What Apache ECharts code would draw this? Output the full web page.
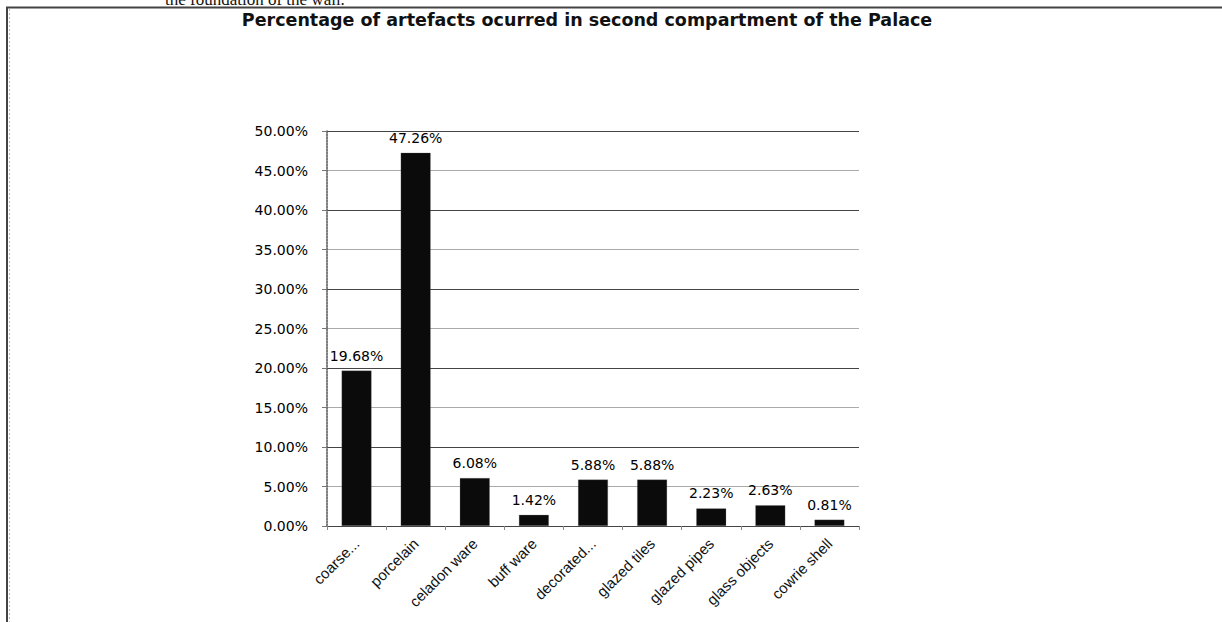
<!DOCTYPE html>
<html>
<head>
<meta charset="utf-8">
<script src="https://cdn.jsdelivr.net/npm/echarts@6/dist/echarts.min.js"></script>
<style>
  html, body { margin: 0; padding: 0; background: #fff; }
  #chart { width: 1222px; height: 622px; }
</style>
</head>
<body>
<div id="chart"></div>
<script>
// artefact categories and their share (%) in the second compartment
const categories = ['coarse...', 'porcelain', 'celadon ware', 'buff ware', 'decorated...',
  'glazed tiles', 'glazed pipes', 'glass objects', 'cowrie shell'];
const percentages = [19.68, 47.26, 6.08, 1.42, 5.88, 5.88, 2.23, 2.63, 0.81];
const yTicks = { min: 0, max: 50, step: 5 };

const chart = echarts.init(document.getElementById('chart'), null, { renderer: 'svg' });

const option = {
  backgroundColor: '#fff',
  animation: false,
  title: {
    text: 'Percentage of artefacts ocurred in second compartment of the Palace',
    left: 582,
    textAlign: 'center',
    top: 6,
    textStyle: { fontFamily: 'DejaVu Sans', fontSize: 17.5, fontWeight: 'bold', color: '#111' }
  },
  graphic: [
    // page text cut by the top edge of the screenshot
    {
      type: 'text', left: 165, top: -9,
      style: { text: 'the foundation of the wall.', font: '17px "Liberation Serif"', fill: '#111' }
    },
    // frame around the chart
    {
      type: 'polyline',
      shape: { points: [[7, 640], [7, 7.5], [1240, 7.5]] },
      style: { stroke: '#444', lineWidth: 2, fill: 'none' }
    },
    {
      type: 'line',
      shape: { x1: 9.5, y1: 9, x2: 9.5, y2: 640 },
      style: { stroke: '#bbb', lineWidth: 1, lineDash: [2, 2] }
    }
  ],
  grid: { left: 327, right: 363, top: 131, bottom: 96 },
  xAxis: {
    type: 'category',
    data: categories,
    axisLine: { show: false },
    axisTick: { show: true, length: 4, lineStyle: { color: '#888' } },
    axisLabel: {
      rotate: 45,
      interval: 0,
      margin: 15,
      fontFamily: 'Liberation Sans',
      fontSize: 15,
      color: '#111'
    }
  },
  yAxis: {
    type: 'value',
    min: yTicks.min,
    max: yTicks.max,
    interval: yTicks.step,
    axisLine: { show: true, lineStyle: { color: '#555', width: 1.5, type: [2, 1] } },
    axisTick: { show: true, length: 5, lineStyle: { color: '#777' } },
    axisLabel: {
      margin: 19,
      fontFamily: 'DejaVu Sans',
      fontSize: 14,
      color: '#000',
      formatter: v => v.toFixed(2) + '%'
    },
    // alternating dark / light gridlines
    splitLine: { lineStyle: { color: ['#444', '#aaa'], width: 1 } }
  },
  series: [{
    type: 'bar',
    data: percentages,
    barWidth: 30,
    itemStyle: { color: '#0b0b0b', borderColor: '#777', borderWidth: 0.5, borderType: 'dotted' },
    label: {
      show: true,
      position: 'top',
      distance: 8,
      fontFamily: 'DejaVu Sans',
      fontSize: 14,
      color: '#000',
      formatter: p => p.value.toFixed(2) + '%'
    }
  }]
};

chart.setOption(option);
</script>
</body>
</html>
